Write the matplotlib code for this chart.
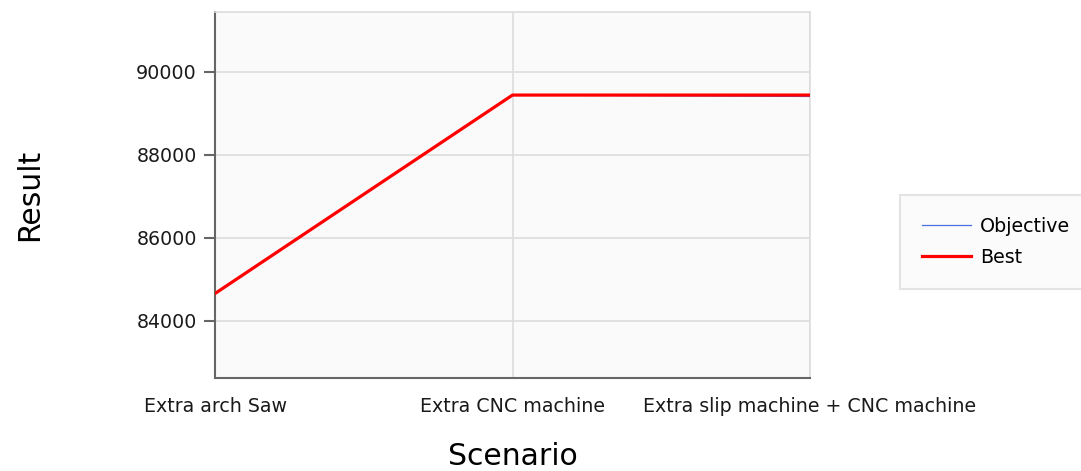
import matplotlib
matplotlib.use("Agg")
import matplotlib.pyplot as plt

scenarios = ["Extra arch Saw", "Extra CNC machine", "Extra slip machine + CNC machine"]
objective = [84658, 89434, 89400]
best = [84658, 89434, 89434]
yticks = [84000, 86000, 88000, 90000]

plt.rcParams['font.family'] = ['DejaVu Sans']
fig = plt.figure(figsize=(10.81, 4.71), dpi=100)
ax = fig.add_axes([0.1989, 0.1975, 0.5504, 0.777])
ax.set_facecolor('#fafafa')

x = list(range(len(scenarios)))
ax.plot(x, objective, color='#4a6fe0', lw=0.9, label='Objective', zorder=3)
ax.plot(x, best, color='#ff0000', lw=2.3, label='Best', zorder=4)

ax.set_xlim(0, 2)
ax.set_ylim(82625, 91433)
ax.set_xticks(x)
ax.set_xticklabels(scenarios, fontsize=13.7, color='#1a1a1a')
ax.set_yticks(yticks)
ax.set_yticklabels([str(v) for v in yticks], fontsize=13.7, color='#1a1a1a')
ax.tick_params(axis='x', length=0, pad=14)
ax.tick_params(axis='y', length=8, width=1.5, color='#666666', pad=5)
ax.grid(True, color='#dddddd', lw=1.2)
ax.set_axisbelow(True)
for s in ['left', 'bottom']:
    ax.spines[s].set_color('#666666')
    ax.spines[s].set_linewidth(1.5)
for s in ['top', 'right']:
    ax.spines[s].set_color('#dddddd')
    ax.spines[s].set_linewidth(1.2)

ax.set_ylabel('Result', fontsize=21.5)
ax.set_xlabel('Scenario', fontsize=21.5)
ax.yaxis.set_label_coords(-0.287, 0.5)
ax.xaxis.set_label_coords(0.5, -0.176)

leg = fig.legend(loc='upper left', bbox_to_anchor=(900/1081, 1 - 195/471), fontsize=13.7,
                 frameon=True, fancybox=False, edgecolor='#dddddd', facecolor='#fafafa',
                 handlelength=2.6, handletextpad=0.45, borderpad=1.15, labelspacing=0.62,
                 borderaxespad=0)
leg.get_frame().set_linewidth(1.5)

fig.savefig('out.png', dpi=100)
